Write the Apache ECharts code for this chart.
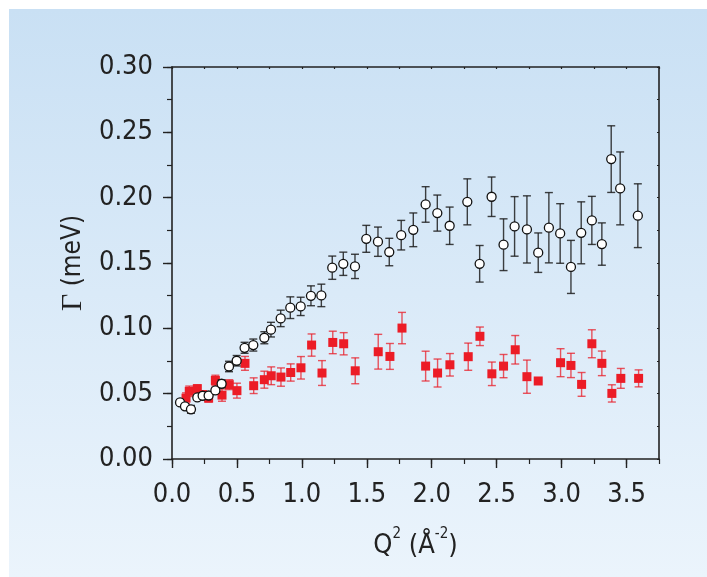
<!DOCTYPE html>
<html>
<head>
<meta charset="utf-8">
<script src="https://cdn.jsdelivr.net/npm/echarts@6/dist/echarts.min.js"></script>
<style>
html,body{margin:0;padding:0;background:#fff;}
#c{width:707px;height:577px;}
</style>
</head>
<body>
<div id="c"></div>
<script>
// Open circles (black)
var blackQ = [0.062,0.100,0.146,0.195,0.236,0.282,0.334,0.382,0.439,0.498,0.559,0.626,0.711,0.762,0.837,0.911,0.991,1.070,1.150,1.234,1.319,1.409,1.496,1.586,1.673,1.765,1.858,1.953,2.043,2.138,2.274,2.369,2.461,2.553,2.638,2.733,2.820,2.902,2.989,3.072,3.151,3.233,3.310,3.382,3.451,3.587];
var blackG = [0.0433,0.0403,0.0380,0.0471,0.0484,0.0486,0.0525,0.0576,0.0708,0.0752,0.0851,0.0872,0.0928,0.0990,0.1076,0.1158,0.1168,0.1249,0.1252,0.1464,0.1494,0.1474,0.1685,0.1663,0.1584,0.1713,0.1754,0.1948,0.1882,0.1785,0.1968,0.1494,0.2007,0.1640,0.1780,0.1757,0.1579,0.1770,0.1726,0.1470,0.1731,0.1826,0.1645,0.2295,0.2071,0.1862];
var blackErr = [0.002,0.002,0.003,0.002,0.002,0.002,0.002,0.003,0.004,0.004,0.0042,0.0046,0.0046,0.0056,0.0063,0.0083,0.0070,0.0076,0.0086,0.0089,0.0089,0.0093,0.0103,0.0112,0.0105,0.0113,0.0129,0.0136,0.0138,0.0143,0.0176,0.0140,0.0151,0.0198,0.0228,0.0257,0.0151,0.0269,0.0228,0.0203,0.0237,0.0184,0.0162,0.0255,0.0279,0.0244];
// Filled squares (red)
var redQ = [0.108,0.133,0.195,0.236,0.282,0.334,0.385,0.441,0.500,0.562,0.629,0.711,0.764,0.839,0.914,0.993,1.075,1.155,1.238,1.322,1.411,1.588,1.678,1.771,1.953,2.045,2.140,2.281,2.371,2.463,2.553,2.643,2.733,2.820,2.992,3.072,3.154,3.233,3.310,3.387,3.456,3.593];
var redG = [0.0466,0.0518,0.0538,0.0492,0.0466,0.0601,0.0489,0.0569,0.0523,0.0732,0.0561,0.0607,0.0637,0.0627,0.0662,0.0698,0.0872,0.0658,0.0892,0.0882,0.0675,0.0821,0.0785,0.1002,0.0711,0.0658,0.0721,0.0783,0.0939,0.0652,0.0711,0.0836,0.0630,0.0597,0.0737,0.0716,0.0571,0.0882,0.0732,0.0502,0.0617,0.0617];
var redErr = [0.004,0.004,0.003,0.003,0.003,0.004,0.0047,0.0038,0.0057,0.0053,0.0060,0.0065,0.0068,0.0070,0.0066,0.0086,0.0085,0.0095,0.0086,0.0085,0.0099,0.0133,0.0099,0.0120,0.0114,0.0107,0.0086,0.0104,0.0071,0.0090,0.0089,0.0109,0.0127,0,0.0107,0.0093,0.0091,0.0107,0.0094,0.0066,0.0076,0.0065];
var xTicks = [0.0,0.5,1.0,1.5,2.0,2.5,3.0,3.5];
var yTicks = [0.00,0.05,0.10,0.15,0.20,0.25,0.30];

var FONT = "'Liberation Sans Narrow','DejaVu Sans Condensed','Liberation Sans',sans-serif";
var AX = '#222';

function zip3(a,b,c){ return a.map(function(v,i){ return [v,b[i],c[i]]; }); }
function zip2(a,b){ return a.map(function(v,i){ return [v,b[i]]; }); }

function errRender(color){
  return function(params, api){
    var x = api.value(0), y = api.value(1), e = api.value(2);
    if (!e) return null;
    var p1 = api.coord([x, y + e]), p2 = api.coord([x, y - e]);
    var cw = 4;
    var st = {stroke: color, lineWidth: 1.4};
    return {type:'group', children:[
      {type:'line', shape:{x1:p1[0],y1:p1[1],x2:p2[0],y2:p2[1]}, style:st},
      {type:'line', shape:{x1:p1[0]-cw,y1:p1[1],x2:p1[0]+cw,y2:p1[1]}, style:st},
      {type:'line', shape:{x1:p2[0]-cw,y1:p2[1],x2:p2[0]+cw,y2:p2[1]}, style:st}
    ]};
  };
}

var chart = echarts.init(document.getElementById('c'), null, {renderer:'canvas'});
var xMin = xTicks[0], xMax = 3.75, yMin = yTicks[0], yMax = yTicks[yTicks.length-1];
var lineStyle = {color: AX, width: 1.6};

chart.setOption({
  animation: false,
  graphic: [{
    type: 'rect', z: -10, silent: true,
    shape: {x: 9, y: 9, width: 698, height: 568},
    style: {fill: new echarts.graphic.LinearGradient(0,0,0,1,[
      {offset:0, color:'#c9e0f4'},{offset:1, color:'#ebf4fc'}])}
  }],
  grid: {left: 172, right: 48, top: 67, bottom: 118, containLabel: false},
  xAxis: [
    {type:'value', position:'bottom', min:xMin, max:xMax, interval:0.5,
     axisLine:{show:true, onZero:false, lineStyle:lineStyle},
     axisTick:{show:true, inside:false, length:9, lineStyle:{color:AX,width:1.4}},
     axisLabel:{show:true, margin:22, fontSize:27, fontFamily:FONT, color:AX, showMaxLabel:false,
       formatter:function(v){ return v.toFixed(1); }},
     splitLine:{show:false},
     name:'{a|Q}{s|2}{a| (Å}{s|-2}{a|)}', nameLocation:'middle', nameGap:68,
     nameTextStyle:{rich:{
       a:{fontSize:27, fontFamily:FONT, color:AX, lineHeight:32, verticalAlign:'bottom'},
       s:{fontSize:15, fontFamily:FONT, color:AX, lineHeight:32, verticalAlign:'top'}}}},
    {type:'value', position:'bottom', min:xMin, max:xMax, interval:0.25,
     axisLine:{show:false, onZero:false}, axisTick:{show:true, length:5, lineStyle:{color:AX,width:1.2}},
     axisLabel:{show:false}, splitLine:{show:false}},
    {type:'value', position:'top', min:xMin, max:xMax, interval:0.25,
     axisLine:{show:true, onZero:false, lineStyle:lineStyle},
     axisTick:{show:true, inside:true, length:2, lineStyle:{color:AX,width:1.2}},
     axisLabel:{show:false}, splitLine:{show:false}}
  ],
  yAxis: [
    {type:'value', position:'left', min:yMin, max:yMax, interval:0.05,
     axisLine:{show:true, onZero:false, lineStyle:lineStyle},
     axisTick:{show:true, inside:false, length:9, lineStyle:{color:AX,width:1.4}},
     axisLabel:{show:true, margin:19, fontSize:27, fontFamily:FONT, color:AX,
       formatter:function(v){ return v.toFixed(2); }},
     splitLine:{show:false},
     name:'{g|Γ}{t| (meV)}', nameLocation:'middle', nameGap:80, nameRotate:90,
     nameTextStyle:{rich:{
       g:{fontSize:30, fontFamily:"'Liberation Serif','DejaVu Serif',serif", color:AX},
       t:{fontSize:26, fontFamily:FONT, color:AX}}}},
    {type:'value', position:'left', min:yMin, max:yMax, interval:0.025,
     axisLine:{show:false, onZero:false}, axisTick:{show:true, length:5, lineStyle:{color:AX,width:1.2}},
     axisLabel:{show:false}, splitLine:{show:false}},
    {type:'value', position:'right', min:yMin, max:yMax, interval:0.025,
     axisLine:{show:true, onZero:false, lineStyle:lineStyle},
     axisTick:{show:true, inside:true, length:2, lineStyle:{color:AX,width:1.2}},
     axisLabel:{show:false}, splitLine:{show:false}}
  ],
  series: [
    {type:'custom', name:'redErr', xAxisIndex:0, yAxisIndex:0, z:2,
     renderItem: errRender('rgba(232,30,40,0.75)'), data: zip3(redQ, redG, redErr), encode:{x:0,y:1}},
    {type:'scatter', name:'red', xAxisIndex:0, yAxisIndex:0, z:3, symbol:'rect', symbolSize:9,
     itemStyle:{color:'#ec1c26', opacity:1}, data: zip2(redQ, redG)},
    {type:'custom', name:'blackErr', xAxisIndex:0, yAxisIndex:0, z:4,
     renderItem: errRender('rgba(30,30,30,0.85)'), data: zip3(blackQ, blackG, blackErr), encode:{x:0,y:1}},
    {type:'scatter', name:'black', xAxisIndex:0, yAxisIndex:0, z:5, symbol:'circle', symbolSize:9,
     itemStyle:{color:'#ffffff', borderColor:'#111', borderWidth:1.3, opacity:1}, data: zip2(blackQ, blackG)}
  ]
});
</script>
</body>
</html>
